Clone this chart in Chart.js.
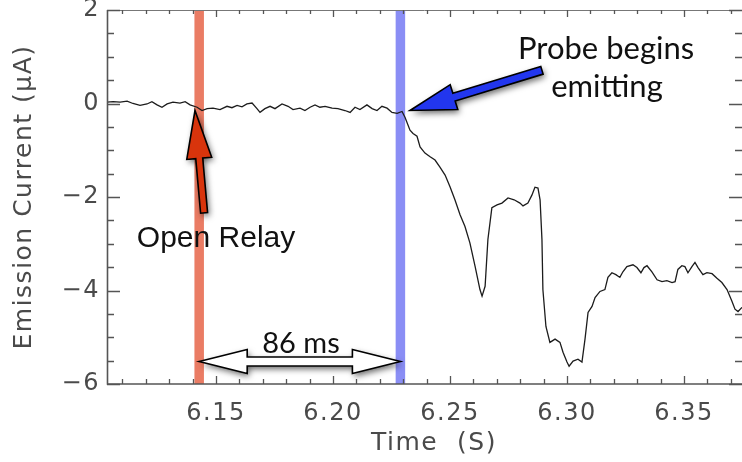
<!DOCTYPE html>
<html>
<head>
<meta charset="utf-8">
<script src="https://cdn.jsdelivr.net/npm/chart.js@4.4.1/dist/chart.umd.min.js"></script>
<style>
  html, body { margin: 0; padding: 0; background: #fff; }
</style>
</head>
<body>
<canvas id="emissionChart" width="742" height="462"></canvas>
<script>
// Emission current trace (time in s, current in uA)
const timeS = [
  6.1034, 6.1060, 6.1090, 6.1120, 6.1145, 6.1175, 6.1205, 6.1226, 6.1248, 6.1269,
  6.1291, 6.1316, 6.1346, 6.1368, 6.1389, 6.1419, 6.1440, 6.1462, 6.1487, 6.1517,
  6.1547, 6.1568, 6.1590, 6.1611, 6.1632, 6.1654, 6.1675, 6.1688, 6.1709, 6.1731,
  6.1752, 6.1782, 6.1808, 6.1829, 6.1859, 6.1880, 6.1902, 6.1923, 6.1944, 6.1966,
  6.1996, 6.2021, 6.2051, 6.2073, 6.2094, 6.2115, 6.2145, 6.2167, 6.2188, 6.2209,
  6.2231, 6.2252, 6.2274, 6.2295, 6.2308, 6.2329, 6.2342, 6.2359, 6.2372, 6.2393,
  6.2415, 6.2436, 6.2457, 6.2479, 6.2500, 6.2521, 6.2543, 6.2564, 6.2585, 6.2607,
  6.2628, 6.2637, 6.2650, 6.2662, 6.2679, 6.2701, 6.2722, 6.2748, 6.2774, 6.2799,
  6.2812, 6.2833, 6.2850, 6.2863, 6.2876, 6.2885, 6.2893, 6.2897, 6.2910, 6.2927,
  6.2949, 6.2970, 6.2983, 6.3000, 6.3009, 6.3026, 6.3047, 6.3064, 6.3077, 6.3090,
  6.3107, 6.3120, 6.3141, 6.3162, 6.3175, 6.3192, 6.3209, 6.3226, 6.3239, 6.3256,
  6.3282, 6.3299, 6.3316, 6.3329, 6.3342, 6.3363, 6.3385, 6.3406, 6.3427, 6.3449,
  6.3462, 6.3474, 6.3491, 6.3504, 6.3517, 6.3534, 6.3547, 6.3560, 6.3581, 6.3598,
  6.3620, 6.3641, 6.3662, 6.3684, 6.3705, 6.3718, 6.3731, 6.3748
];
const currentUA = [
  0.03, 0.04, 0.03, 0.05, 0.00, -0.04, -0.01, 0.04, -0.03, -0.08,
  -0.01, 0.03, 0.01, 0.04, -0.03, -0.08, -0.15, -0.11, -0.10, -0.13,
  -0.06, -0.09, -0.04, -0.07, -0.01, 0.01, -0.11, -0.19, -0.11, -0.06,
  -0.11, -0.01, -0.06, -0.13, -0.10, -0.15, -0.08, -0.03, -0.08, -0.06,
  -0.10, -0.11, -0.15, -0.19, -0.08, -0.13, -0.03, -0.11, -0.15, -0.06,
  -0.10, -0.19, -0.21, -0.17, -0.30, -0.57, -0.64, -0.70, -0.93, -1.06,
  -1.14, -1.21, -1.36, -1.53, -1.78, -2.06, -2.38, -2.63, -2.98, -3.48,
  -3.98, -4.12, -3.91, -2.91, -2.23, -2.17, -2.13, -2.02, -2.06, -2.13,
  -2.19, -2.13, -1.96, -1.79, -1.81, -2.06, -2.91, -3.98, -4.77, -5.11,
  -5.04, -5.11, -5.32, -5.53, -5.62, -5.51, -5.47, -5.53, -5.04, -4.47,
  -4.34, -4.15, -4.02, -3.98, -3.72, -3.62, -3.66, -3.72, -3.60, -3.49,
  -3.45, -3.51, -3.62, -3.51, -3.47, -3.60, -3.77, -3.81, -3.79, -3.83,
  -3.81, -3.55, -3.47, -3.49, -3.62, -3.49, -3.40, -3.51, -3.66, -3.62,
  -3.64, -3.74, -3.83, -3.98, -4.23, -4.40, -4.45, -4.36
];

const xTicks = [6.15, 6.20, 6.25, 6.30, 6.35];
const yTicks = [-6, -4, -2, 0, 2];

// relay opens, probe starts emitting 86 ms later
const relayTime = 6.1428;
const delayMs = 86;
const probeTime = relayTime + delayMs / 1000;

const MINUS = '\u2212';
const axisColor = '#4a4a4a';

function arrowPath(ctx, x0, y0, x1, y1, shaftW, headL, headW, both) {
  const dx = x1 - x0, dy = y1 - y0, len = Math.hypot(dx, dy);
  const ux = dx / len, uy = dy / len, nx = -uy, ny = ux;
  const P = (a, b) => [x0 + ux * a + nx * b, y0 + uy * a + ny * b];
  const s = shaftW / 2, h = headW / 2;
  const pts = both
    ? [P(0, 0), P(headL, -h), P(headL, -s), P(len - headL, -s), P(len - headL, -h),
       P(len, 0), P(len - headL, h), P(len - headL, s), P(headL, s), P(headL, h)]
    : [P(0, -s), P(len - headL, -s), P(len - headL, -h), P(len, 0),
       P(len - headL, h), P(len - headL, s), P(0, s)];
  ctx.beginPath();
  pts.forEach((p, i) => i ? ctx.lineTo(p[0], p[1]) : ctx.moveTo(p[0], p[1]));
  ctx.closePath();
}

function drawArrow(ctx, x0, y0, x1, y1, shaftW, headL, headW, fill, both) {
  ctx.save();
  arrowPath(ctx, x0, y0, x1, y1, shaftW, headL, headW, both);
  ctx.shadowColor = 'rgba(0,0,0,0.6)';
  ctx.shadowBlur = 6;
  ctx.shadowOffsetX = 2;
  ctx.shadowOffsetY = 3;
  ctx.fillStyle = fill;
  ctx.fill();
  ctx.shadowColor = 'transparent';
  ctx.lineWidth = 1.6;
  ctx.strokeStyle = '#000';
  ctx.lineJoin = 'miter';
  ctx.stroke();
  ctx.restore();
}

const overlay = {
  id: 'overlay',
  beforeDraw(chart) {
    // wide spacing for the axis lettering
    chart.ctx.letterSpacing = '1.5px';
  },
  beforeDatasetsDraw(chart) {
    const { ctx, chartArea: a, scales: { x } } = chart;
    ctx.save();
    ctx.beginPath();
    ctx.rect(a.left, a.top, a.right - a.left, a.bottom - a.top);
    ctx.clip();
    [[relayTime, '#EA7C64'], [probeTime, '#8A8EF5']].forEach(([t, c]) => {
      const px = x.getPixelForValue(t);
      ctx.fillStyle = c;
      ctx.fillRect(px - 4.75, a.top, 9.5, a.bottom - a.top);
    });
    ctx.restore();
  },
  afterDatasetsDraw(chart) {
    const { ctx, chartArea: a, scales: { x, y } } = chart;
    ctx.save();
    ctx.letterSpacing = '0px';

    // frame
    ctx.strokeStyle = '#777';
    ctx.lineWidth = 1;
    ctx.beginPath();
    ctx.moveTo(a.left, a.top + 0.5);
    ctx.lineTo(a.right, a.top + 0.5);
    ctx.stroke();
    ctx.strokeStyle = '#555';
    ctx.lineWidth = 1.6;
    ctx.beginPath();
    ctx.moveTo(a.left + 0.5, a.top);
    ctx.lineTo(a.left + 0.5, a.bottom);
    ctx.lineTo(a.right, a.bottom);
    ctx.stroke();

    // inward ticks on all four sides
    ctx.lineWidth = 1.3;
    ctx.strokeStyle = '#555';
    ctx.beginPath();
    for (let i = 611; i <= 637; i++) {
      const v = i / 100;
      const px = Math.round(x.getPixelForValue(v)) + 0.5;
      const major = i % 5 === 0;
      const lb = major ? 8 : 5, lt = major ? 7 : 4;
      ctx.moveTo(px, a.bottom); ctx.lineTo(px, a.bottom - lb);
      ctx.moveTo(px, a.top); ctx.lineTo(px, a.top + lt);
    }
    for (let i = -12; i <= 4; i++) {
      const v = i / 2;
      const py = Math.round(y.getPixelForValue(v)) + 0.5;
      const major = i % 4 === 0;
      const l = major ? 13 : 7;
      ctx.moveTo(a.left, py); ctx.lineTo(a.left + l, py);
      ctx.moveTo(a.right, py); ctx.lineTo(a.right - l, py);
    }
    ctx.stroke();

    // arrows
    drawArrow(ctx, x.getPixelForValue(6.1449), y.getPixelForValue(-2.34),
      x.getPixelForValue(6.1410), y.getPixelForValue(-0.15), 7, 48, 25, '#D8340C', false);
    drawArrow(ctx, x.getPixelForValue(6.2893), y.getPixelForValue(0.71),
      x.getPixelForValue(6.2329), y.getPixelForValue(-0.15), 8, 46, 26, '#2236EE', false);
    const yd = y.getPixelForValue(-5.52);
    drawArrow(ctx, x.getPixelForValue(relayTime), yd,
      x.getPixelForValue(probeTime), yd, 9, 48, 24, '#fff', true);

    // labels
    ctx.fillStyle = '#111';
    ctx.textAlign = 'center';
    ctx.textBaseline = 'middle';
    ctx.font = '30px "Liberation Sans", Arial, sans-serif';
    ctx.fillText('Open Relay', x.getPixelForValue(6.1500), y.getPixelForValue(-2.89));
    ctx.font = '29px Lato, "Open Sans", sans-serif';
    ctx.fillText(delayMs + ' ms', x.getPixelForValue(6.1863), y.getPixelForValue(-5.13));
    ctx.font = '31px Lato, "Open Sans", sans-serif';
    ctx.fillText('Probe begins', x.getPixelForValue(6.3167), y.getPixelForValue(1.17));
    ctx.fillText('emitting', x.getPixelForValue(6.3171), y.getPixelForValue(0.36));
    ctx.restore();
  }
};

const tickFont = { family: '"DejaVu Sans", sans-serif', size: 24 };
const titleFont = { family: '"DejaVu Sans", sans-serif', size: 25 };

new Chart(document.getElementById('emissionChart'), {
  type: 'line',
  data: {
    datasets: [{
      data: timeS.map((t, i) => ({ x: t, y: currentUA[i] })),
      borderColor: '#1c1c1c',
      borderWidth: 1.3,
      pointRadius: 0,
      tension: 0
    }]
  },
  options: {
    responsive: false,
    animation: false,
    devicePixelRatio: 1,
    layout: { padding: { top: 10, right: 0, left: 0, bottom: 0 } },
    plugins: { legend: { display: false }, tooltip: { enabled: false } },
    scales: {
      x: {
        type: 'linear',
        min: 6.1034,
        max: 6.3748,
        grid: { display: false, drawTicks: false },
        border: { display: false },
        afterBuildTicks: (s) => { s.ticks = xTicks.map(v => ({ value: v })); },
        afterFit: (s) => { s.height = 78; s.paddingLeft = 0; s.paddingRight = 0; },
        ticks: {
          font: tickFont,
          color: axisColor,
          padding: 15,
          maxRotation: 0,
          callback: (v) => v.toFixed(2)
        },
        title: {
          display: true,
          text: '  Time  (S)',
          font: titleFont,
          color: axisColor,
          padding: { top: 0, bottom: 4 }
        }
      },
      y: {
        min: -6,
        max: 2,
        grid: { display: false, drawTicks: false },
        border: { display: false },
        afterBuildTicks: (s) => { s.ticks = yTicks.map(v => ({ value: v })); },
        afterFit: (s) => { s.width = 107; s.paddingTop = 0; s.paddingBottom = 0; },
        ticks: {
          font: tickFont,
          color: axisColor,
          padding: 7,
          callback: (v) => v < 0 ? MINUS + Math.abs(v) : String(v)
        },
        title: {
          display: true,
          text: 'Emission Current (\u03BCA)',
          font: titleFont,
          color: axisColor,
          padding: { top: 9, bottom: 0 }
        }
      }
    }
  },
  plugins: [overlay]
});
</script>
</body>
</html>
